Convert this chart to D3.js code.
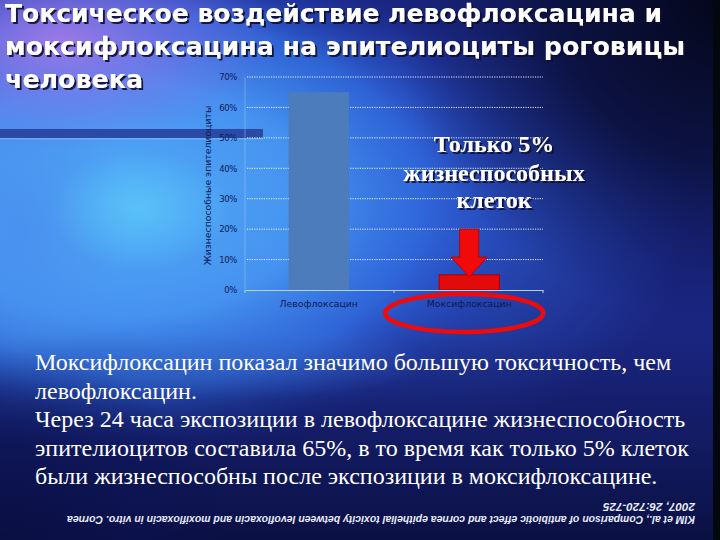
<!DOCTYPE html>
<html>
<head>
<meta charset="utf-8">
<script src="https://cdn.jsdelivr.net/npm/d3@7"></script>
<style>
html,body{margin:0;padding:0;background:#16206a;}
svg{display:block;}
</style>
</head>
<body>
<svg id="c" width="720" height="540"></svg>
<script>
// ---- data ----
const categories = ["Левофлоксацин", "Моксифлоксацин"];
const viability = [0.65, 0.05];
const yTicks = [0, 0.1, 0.2, 0.3, 0.4, 0.5, 0.6, 0.7];
const titleLines = ["Токсическое воздействие левофлоксацина и",
                    "моксифлоксацина на эпителиоциты роговицы",
                    "человека"];
const yAxisTitle = "Жизнеспособные эпителиоциты";
const calloutLines = ["Только 5%", "жизнеспособных", "клеток"];
const bodyLines = ["Моксифлоксацин показал значимо большую токсичность, чем",
                   "левофлоксацин.",
                   "Через 24 часа экспозиции в левофлоксацине жизнеспособность",
                   "эпителиоцитов составила 65%, в то время как только 5% клеток",
                   "были жизнеспособны после экспозиции в моксифлоксацине."];
const citationLines = ["KIM et al., Comparison of antibiotic effect and cornea epithelial toxicity between levofloxacin and moxifloxacin in vitro. Cornea",
                       "2007, 26:720-725"];

const svg = d3.select("#c");
const defs = svg.append("defs");

// ---- background ----
function radial(id, stops) {
  const g = defs.append("radialGradient").attr("id", id);
  stops.forEach(s => g.append("stop").attr("offset", s[0]).attr("stop-color", s[1]).attr("stop-opacity", s[2]));
}
radial("glowMain", [[0, "#52acf6", 1], [0.45, "#4592f0", 1], [0.72, "#3068dc", 0.9], [1, "#2236b0", 0]]);
radial("glowLeft", [[0, "#4a90ee", 0.9], [1, "#4a90ee", 0]]);
radial("glowCyan", [[0, "#5ed0fa", 0.6], [1, "#5ed0fa", 0]]);
radial("glowPurple", [[0, "#b07ae8", 0.85], [0.5, "#8a70e6", 0.5], [1, "#7a6ae8", 0]]);
radial("glowMid", [[0, "#3068dc", 0.85], [1, "#2f5fd8", 0]]);
radial("darkTR", [[0, "#04061a", 1], [0.5, "#0a0f38", 0.85], [1, "#101a60", 0]]);
radial("darkBL", [[0, "#0a0e40", 0.9], [0.6, "#0c1250", 0.5], [1, "#0c1250", 0]]);
radial("streak", [[0, "#3a78e0", 0.6], [1, "#3a78e0", 0]]);
const lin = defs.append("linearGradient").attr("id", "bottomDark").attr("x1", 0).attr("y1", 0).attr("x2", 0).attr("y2", 1);
lin.append("stop").attr("offset", 0).attr("stop-color", "#0a0f40").attr("stop-opacity", 0);
lin.append("stop").attr("offset", 1).attr("stop-color", "#080c38").attr("stop-opacity", 0.85);

const bg = svg.append("g");
bg.append("rect").attr("width", 720).attr("height", 540).attr("fill", "#1a2580");
bg.append("ellipse").attr("cx", 420).attr("cy", 220).attr("rx", 270).attr("ry", 210).attr("fill", "url(#glowMid)");
bg.append("ellipse").attr("cx", 120).attr("cy", 200).attr("rx", 420).attr("ry", 260).attr("fill", "url(#glowMain)");
bg.append("ellipse").attr("cx", 20).attr("cy", 230).attr("rx", 110).attr("ry", 150).attr("fill", "url(#glowLeft)");
bg.append("ellipse").attr("cx", 140).attr("cy", 210).attr("rx", 90).attr("ry", 60).attr("fill", "url(#glowCyan)");
bg.append("ellipse").attr("cx", 60).attr("cy", 40).attr("rx", 220).attr("ry", 110).attr("fill", "url(#glowPurple)");
bg.append("ellipse").attr("cx", 230).attr("cy", 360).attr("rx", 200).attr("ry", 40).attr("fill", "url(#streak)");
bg.append("ellipse").attr("cx", 720).attr("cy", 0).attr("rx", 330).attr("ry", 320).attr("fill", "url(#darkTR)");
bg.append("rect").attr("y", 335).attr("width", 720).attr("height", 205).attr("fill", "url(#bottomDark)");
bg.append("ellipse").attr("cx", 0).attr("cy", 560).attr("rx", 240).attr("ry", 210).attr("fill", "url(#darkBL)");
bg.append("rect").attr("x", 713).attr("width", 7).attr("height", 540).attr("fill", "#04070e");
// decorative band at left
bg.append("rect").attr("x", 0).attr("y", 129).attr("width", 263).attr("height", 9).attr("fill", "#2a4aa6");
bg.append("rect").attr("x", 0).attr("y", 138).attr("width", 263).attr("height", 1.5).attr("fill", "#7ab4f4").attr("opacity", 0.7);

// ---- chart ----
const plot = {left: 245, right: 543, top: 77, bottom: 290};
const x = d3.scaleBand().domain(categories).range([plot.left, plot.right]).paddingInner(0.6).paddingOuter(0.29);
const y = d3.scaleLinear().domain([0, 0.7]).range([plot.bottom, plot.top]);
const chart = svg.append("g");

chart.append("line").attr("x1", plot.left).attr("x2", plot.left).attr("y1", y(0.7)).attr("y2", y(0))
  .attr("stroke", "#a8c8f0").attr("stroke-opacity", 0.45).attr("stroke-width", 1);

chart.append("g").selectAll("line").data(yTicks.filter(d => d > 0)).join("line")
  .attr("x1", plot.left + 2).attr("x2", plot.right)
  .attr("y1", d => y(d)).attr("y2", d => y(d))
  .attr("stroke", "#ffffff").attr("stroke-width", 1).attr("stroke-dasharray", "1.2,1.2").attr("stroke-opacity", 0.9);

const yAxis = d3.axisLeft(y).tickValues(yTicks).tickFormat(d3.format(".0%")).tickSize(0).tickPadding(8);
const ya = chart.append("g").attr("transform", `translate(${plot.left},0)`).call(yAxis);
ya.select(".domain").remove();
ya.selectAll("text").attr("font-family", "DejaVu Sans, Verdana, sans-serif").attr("font-size", 8.5)
  .attr("fill", "#0d1a55").attr("letter-spacing", -0.4);

chart.append("text").attr("transform", `translate(211,${(y(0) + y(0.7)) / 2 + 2}) rotate(-90)`)
  .attr("text-anchor", "middle").attr("font-family", "DejaVu Sans, Verdana, sans-serif").attr("font-size", 9.3)
  .attr("fill", "#0d1a55").text(yAxisTitle);

const barColors = ["#4d7cbc", "#e20a0a"];
chart.append("g").selectAll("rect").data(categories).join("rect")
  .attr("x", d => x(d)).attr("width", x.bandwidth())
  .attr("y", (d, i) => y(viability[i])).attr("height", (d, i) => y(0) - y(viability[i]))
  .attr("fill", (d, i) => barColors[i])
  .attr("stroke", (d, i) => i === 1 ? "#a80000" : "none").attr("stroke-width", 1);

const xAxis = d3.axisBottom(x).tickSize(0).tickPadding(10);
const xa = chart.append("g").attr("transform", `translate(0,${plot.bottom})`).call(xAxis);
xa.select(".domain").attr("stroke", "#b8d0ee").attr("stroke-width", 1);
xa.selectAll("text").attr("font-family", "DejaVu Sans, Verdana, sans-serif").attr("font-size", 9.3).attr("fill", "#0d1a55");
chart.append("g").selectAll("line").data([plot.left, (plot.left + plot.right) / 2, plot.right]).join("line")
  .attr("x1", d => d).attr("x2", d => d).attr("y1", plot.bottom).attr("y2", plot.bottom + 3)
  .attr("stroke", "#b8d0ee").attr("stroke-width", 1);

// ---- annotation: arrow + ellipse around moxifloxacin ----
const mx = x(categories[1]) + x.bandwidth() / 2;
const arrowTop = y(0.2), arrowNeck = y(0.108), arrowTip = y(0.043);
const arrow = [[mx - 9.5, arrowTop], [mx + 9.5, arrowTop], [mx + 9.5, arrowNeck], [mx + 18, arrowNeck],
               [mx, arrowTip], [mx - 18, arrowNeck], [mx - 9.5, arrowNeck]];
svg.append("path").attr("d", d3.line()(arrow) + "Z").attr("fill", "#f00a0a").attr("stroke", "#c00000").attr("stroke-width", 1);
svg.append("ellipse").attr("cx", mx - 5).attr("cy", plot.bottom + 23).attr("rx", 79).attr("ry", 19)
  .attr("fill", "none").attr("stroke", "#f00a0a").attr("stroke-width", 4.5);

// ---- texts ----
const shadow = defs.append("filter").attr("id", "shadow").attr("x", -0.1).attr("y", -0.3).attr("width", 1.2).attr("height", 1.6);
shadow.append("feDropShadow").attr("dx", 2).attr("dy", 2).attr("stdDeviation", 0.6).attr("flood-color", "#0a0a30").attr("flood-opacity", 0.9);

const titleY = [22, 55, 88];
const titleLen = [657, 680, 138];
svg.append("g").attr("filter", "url(#shadow)").selectAll("text").data(titleLines).join("text")
  .attr("x", 5).attr("y", (d, i) => titleY[i])
  .attr("font-family", "DejaVu Sans, Verdana, sans-serif").attr("font-weight", "bold").attr("font-size", 24)
  .attr("fill", "#ffffff")
  .attr("textLength", (d, i) => titleLen[i]).attr("lengthAdjust", "spacingAndGlyphs")
  .text(d => d);

const calloutY = [152, 181, 208];
svg.append("g").attr("filter", "url(#shadow)").selectAll("text").data(calloutLines).join("text")
  .attr("x", 494).attr("y", (d, i) => calloutY[i]).attr("text-anchor", "middle")
  .attr("font-family", "Liberation Serif, Times New Roman, serif").attr("font-weight", "bold").attr("font-size", 24)
  .attr("fill", "#ffffff").text(d => d);

const bodyY = [370, 398.5, 427, 455.5, 484];
svg.append("g").selectAll("text").data(bodyLines).join("text")
  .attr("x", 35).attr("y", (d, i) => bodyY[i])
  .attr("font-family", "Liberation Serif, Times New Roman, serif").attr("font-size", 24)
  .attr("fill", "#ffffff").text(d => d);

const cit = svg.append("g").attr("transform", "translate(695,516) rotate(180)");
const citLen = [628, 92];
cit.selectAll("text").data(citationLines).join("text")
  .attr("x", 0).attr("y", (d, i) => i * 13)
  .attr("font-family", "Liberation Sans, Arial, sans-serif").attr("font-style", "italic").attr("font-weight", "bold")
  .attr("font-size", 10.5).attr("fill", "#e8ecf8")
  .attr("textLength", (d, i) => citLen[i]).attr("lengthAdjust", "spacingAndGlyphs")
  .text(d => d);
</script>
</body>
</html>
